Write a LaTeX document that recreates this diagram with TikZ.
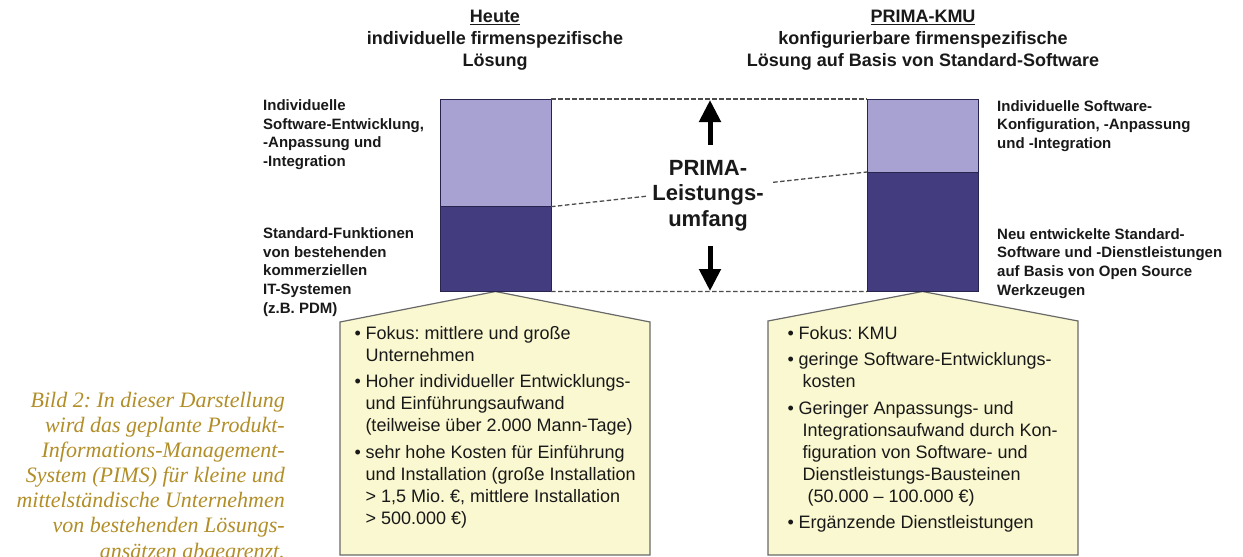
\documentclass[tikz,border=0pt]{standalone}
\usepackage{fontspec}
\setmainfont{Liberation Sans}
\newfontfamily\capfont{Liberation Serif}
\usetikzlibrary{calc,arrows.meta}
\frenchspacing
\definecolor{lightbar}{RGB}{168,162,210}
\definecolor{darkbar}{RGB}{67,61,128}
\definecolor{barline}{RGB}{40,36,80}
\definecolor{calloutfill}{RGB}{250,248,208}
\definecolor{calloutline}{RGB}{105,105,105}
\definecolor{capgold}{RGB}{178,142,40}
\definecolor{txt}{RGB}{25,25,25}
\begin{document}
\begin{tikzpicture}[x=1pt,y=-1pt,
  barbox/.style={draw=barline, line width=0.9pt, minimum width=111pt, inner sep=0pt, outer sep=0pt, anchor=north west},
  lightbarbox/.style={barbox, fill=lightbar},
  darkbarbox/.style={barbox, fill=darkbar},
  dashline/.style={draw=black!70, line width=1.3pt, dash pattern=on 4.5pt off 2.5pt},
  bigarrow/.style={draw=black, line width=5pt, -{Triangle[width=21pt,length=22pt]}},
  heading/.style={font=\fontsize{18}{22}\selectfont\bfseries, text=txt, align=center, inner sep=0pt},
  sidelabel/.style={font=\fontsize{15}{18.6}\selectfont\bfseries, text=txt, align=left, inner sep=0pt, anchor=north west},
  centertext/.style={font=\fontsize{22}{25.5}\selectfont\bfseries, text=txt, align=center, inner sep=0pt, anchor=north},
  callout/.style={draw=calloutline, fill=calloutfill, line width=1.2pt, line join=miter},
  boxtext/.style={font=\fontsize{18}{22}\selectfont, text=txt, align=left, inner sep=0pt, anchor=north west},
  captext/.style={font=\capfont\itshape\fontsize{22}{25.1}\selectfont, text=capgold, align=right, inner sep=0pt, anchor=north east}
]
\useasboundingbox (0,0) rectangle (1243,557);
\clip (0,0) rectangle (1243,557);
\fill[white] (0,0) rectangle (1243,557);

% headings
\node[heading] (hl) at (495,40) {\underline{Heute}\\individuelle firmenspezifische\\Lösung};
\node[heading] (hr) at (923,40.5) {\underline{PRIMA-KMU}\\konfigurierbare firmenspezifische\\Lösung auf Basis von Standard-Software};

% callouts (drawn first)
\coordinate (lapex) at (495.5,291.5);
\coordinate (rapex) at (922.5,291.5);
\coordinate (lc1) at (340,555);
\coordinate (lc2) at (340,322);
\coordinate (lc3) at (650,322);
\coordinate (lc4) at (650,555);
\coordinate (rc1) at (768,555);
\coordinate (rc2) at (768,321);
\coordinate (rc3) at (1078,321);
\coordinate (rc4) at (1078,555);
\draw[callout] (lc1) -- (lc2) -- (lapex) -- (lc3) -- (lc4) -- cycle;
\draw[callout] (rc1) -- (rc2) -- (rapex) -- (rc3) -- (rc4) -- cycle;

% bars
\node[lightbarbox, minimum height=107.7pt] (LL) at (440,99) {};
\node[darkbarbox, minimum height=84.8pt] (LD) at (440,206.7) {};
\node[lightbarbox, minimum height=73pt] (RL) at (867,99) {};
\node[darkbarbox, minimum height=119.5pt] (RD) at (867,172) {};

% dashed connectors
\draw[dashline] (LL.north east) -- (RL.north west);
\draw[dashline] (LD.south east) -- (RD.south west);
\draw[dashline] (LD.north east) -- ($(LD.north east)!0.307!(RD.north west)$);
\draw[dashline] ($(LD.north east)!0.703!(RD.north west)$) -- (RD.north west);

% centre text and arrows
\node[centertext] (prima) at (708,160) {PRIMA-\\Leistungs-\\umfang};
\coordinate (au1) at (710,145);
\coordinate (au2) at (710,100);
\coordinate (ad1) at (710,246);
\coordinate (ad2) at (710,291);
\draw[bigarrow] (au1) -- (au2);
\draw[bigarrow] (ad1) -- (ad2);

% side labels
\node[sidelabel] (l1) at (263,99.5) {Individuelle\\Software-Entwicklung,\\-Anpassung und\\-Integration};
\node[sidelabel] (l2) at (263,227.7) {Standard-Funktionen\\von bestehenden\\kommerziellen\\IT-Systemen\\(z.B. PDM)};
\node[sidelabel] (r1) at (997,100) {Individuelle Software-\\Konfiguration, -Anpassung\\und -Integration};
\node[sidelabel] (r2) at (997,228.3) {Neu entwickelte Standard-\\Software und -Dienstleistungen\\auf Basis von Open Source\\Werkzeugen};

% box texts
\node[boxtext] (lt) at (354.5,323.5) {\begin{tabular}{@{}l@{\hspace{4.5pt}}l@{}}
• & Fokus: mittlere und große\\
  & Unternehmen\\[4.5pt]
• & Hoher individueller Entwicklungs-\\
  & und Einführungsaufwand\\
  & (teilweise über 2.000 Mann-Tage)\\[4.5pt]
• & sehr hohe Kosten für Einführung\\
  & und Installation (große Installation\\
  & > 1,5 Mio. €, mittlere Installation\\
  & > 500.000 €)
\end{tabular}};
\node[boxtext] (rt) at (787.5,323.5) {\begin{tabular}{@{}l@{\hspace{4.5pt}}l@{}}
• & Fokus: KMU\\[4.5pt]
• & geringe Software-Entwicklungs-\\
  & \hspace{4pt}kosten\\[4.5pt]
• & Geringer Anpassungs- und\\
  & \hspace{4pt}Integrationsaufwand durch Kon-\\
  & \hspace{4pt}figuration von Software- und\\
  & \hspace{4pt}Dienstleistungs-Bausteinen\\
  & \hspace{9pt}(50.000 – 100.000 €)\\[4.5pt]
• & Ergänzende Dienstleistungen
\end{tabular}};

% caption
\node[captext] (cap) at (285,392) {Bild 2: In dieser Darstellung\\wird das geplante Produkt-\\Informations-Management-\\System (PIMS) für kleine und\\mittelständische Unternehmen\\von bestehenden Lösungs-\\ansätzen abgegrenzt.};
\end{tikzpicture}
\end{document}
